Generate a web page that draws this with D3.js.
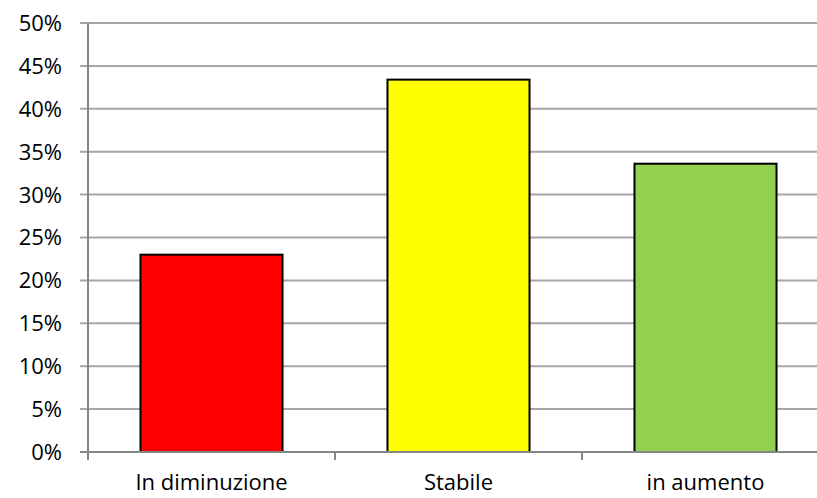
<!DOCTYPE html>
<html><head><meta charset="utf-8">
<script src="https://cdn.jsdelivr.net/npm/d3@7"></script>
<style>
body{margin:0;background:#fff;}
svg{display:block;font-family:"Open Sans",sans-serif;}
</style></head>
<body><svg id="c" width="817" height="498"></svg>
<script>
const categories = ["In diminuzione", "Stabile", "in aumento"];
const values = [0.23, 0.434, 0.336];
const colors = ["#ff0000", "#ffff00", "#92d050"];
const yTicks = [0,0.05,0.10,0.15,0.20,0.25,0.30,0.35,0.40,0.45,0.50];

const svg = d3.select("#c");
const x0 = 88, x1 = 829, yTop = 23, yBot = 452;
const x = d3.scaleBand().domain(categories).range([x0, x1]).paddingInner(0.425).paddingOuter(0.2125);
const y = d3.scaleLinear().domain([0, 0.5]).range([yBot, yTop]);

// gridlines
svg.append("g").selectAll("line").data(yTicks).join("line")
  .attr("x1", 80).attr("x2", 817)
  .attr("y1", d => y(d)).attr("y2", d => y(d))
  .attr("stroke", "#a6a6a6").attr("stroke-width", 2);

// y labels
svg.append("g").selectAll("text").data(yTicks).join("text")
  .attr("x", 62).attr("y", d => y(d)).attr("dy", "0.36em")
  .attr("text-anchor", "end").attr("font-size", 22).attr("fill", "#000")
  .text(d => d3.format(".0%")(d));

// bars
svg.append("g").selectAll("rect").data(values).join("rect")
  .attr("x", (d,i) => x(categories[i])).attr("width", x.bandwidth())
  .attr("y", d => y(d)).attr("height", d => yBot - y(d))
  .attr("fill", (d,i) => colors[i]).attr("stroke", "#000").attr("stroke-width", 2);

// y axis line
svg.append("line").attr("x1", x0).attr("x2", x0).attr("y1", yTop).attr("y2", yBot + 8)
  .attr("stroke", "#868686").attr("stroke-width", 2);
// x axis line
svg.append("line").attr("x1", 80).attr("x2", 817).attr("y1", yBot).attr("y2", yBot)
  .attr("stroke", "#868686").attr("stroke-width", 2);
// x ticks at category boundaries
const bounds = [1, 2].map(i => x0 + i * (x1 - x0) / 3);
svg.append("g").selectAll("line").data(bounds).join("line")
  .attr("x1", d => d).attr("x2", d => d).attr("y1", yBot).attr("y2", yBot + 8)
  .attr("stroke", "#868686").attr("stroke-width", 2);

// x labels
svg.append("g").selectAll("text").data(categories).join("text")
  .attr("x", d => x(d) + x.bandwidth()/2).attr("y", 490)
  .attr("text-anchor", "middle").attr("font-size", 22).attr("fill", "#000")
  .text(d => d);
</script></body></html>
